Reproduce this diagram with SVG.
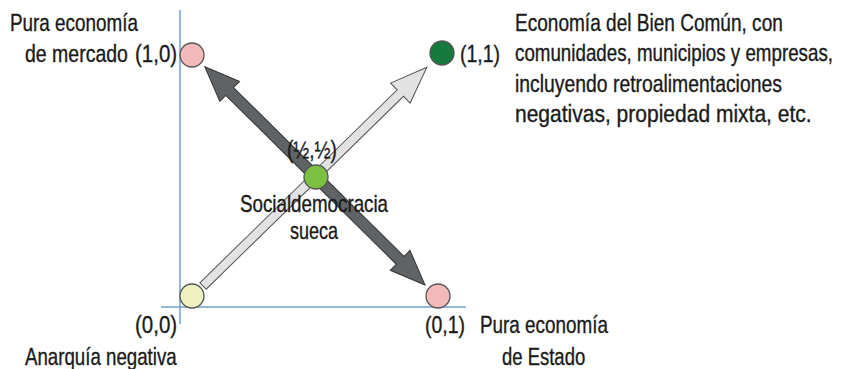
<svg xmlns="http://www.w3.org/2000/svg" width="845" height="369" viewBox="0 0 845 369">
<style>
text{font-family:"Liberation Sans",Arial,sans-serif;font-size:24px;fill:#1a1a1a;stroke:#1a1a1a;stroke-width:0.35}
.axis{stroke:#6f9fd2;stroke-width:1.5;fill:none}
.node{stroke:#555;stroke-width:1.3}
.light{fill:#e2e2e2;stroke:#555;stroke-width:1}
.dark{fill:#606366;stroke:#333;stroke-width:1}
</style>
<rect width="845" height="369" fill="#fff"/>
<g id="axes">
<line class="axis" x1="180" y1="10" x2="180" y2="324"/>
<line class="axis" x1="161" y1="307" x2="466" y2="307"/>
</g>
<g id="connectors">
<polygon class="light" transform="translate(203,286) rotate(-44.35)" points="0,-4.5 276,-4.5 276,-14 313,0 276,14 276,4.5 0,4.5"/>
<polygon class="dark" transform="translate(425,285) rotate(-135.26)" points="0,0 35,-14 35,-5.5 275,-5.5 275,-14 310,0 275,14 275,5.5 35,5.5 35,14"/>
</g>
<g id="node-10">
<circle class="node" cx="192" cy="55" r="12" fill="#f4b9bb"/>
<text transform="translate(10,31) scale(0.787,1)">Pura economía</text>
<text transform="translate(25,62) scale(0.812,1)">de mercado</text>
<text transform="translate(135,62) scale(0.853,1)">(1,0)</text>
</g>
<g id="node-11">
<circle class="node" cx="442" cy="53" r="12" fill="#177a3d"/>
<text transform="translate(460,62) scale(0.811,1)">(1,1)</text>
<text transform="translate(515,31) scale(0.794,1)">Economía del Bien Común, con</text>
<text transform="translate(515,61) scale(0.782,1)">comunidades, municipios y empresas,</text>
<text transform="translate(515,92) scale(0.807,1)">incluyendo retroalimentaciones</text>
<text transform="translate(515,122) scale(0.876,1)">negativas, propiedad mixta, etc.</text>
</g>
<g id="node-half">
<circle class="node" cx="316" cy="177" r="12" fill="#7cc142"/>
<text transform="translate(287,158) scale(0.797,1)">(½,½)</text>
<text transform="translate(240,212) scale(0.782,1)">Socialdemocracia</text>
<text transform="translate(290,239) scale(0.752,1)">sueca</text>
</g>
<g id="node-00">
<circle class="node" cx="192" cy="296" r="12" fill="#eef1bd"/>
<text transform="translate(135,333) scale(0.853,1)">(0,0)</text>
<text transform="translate(25,365) scale(0.779,1)">Anarquía negativa</text>
</g>
<g id="node-01">
<circle class="node" cx="438" cy="296" r="12" fill="#f4b9bb"/>
<text transform="translate(425,333) scale(0.811,1)">(0,1)</text>
<text transform="translate(480,333) scale(0.787,1)">Pura economía</text>
<text transform="translate(502,365) scale(0.77,1)">de Estado</text>
</g>
</svg>
